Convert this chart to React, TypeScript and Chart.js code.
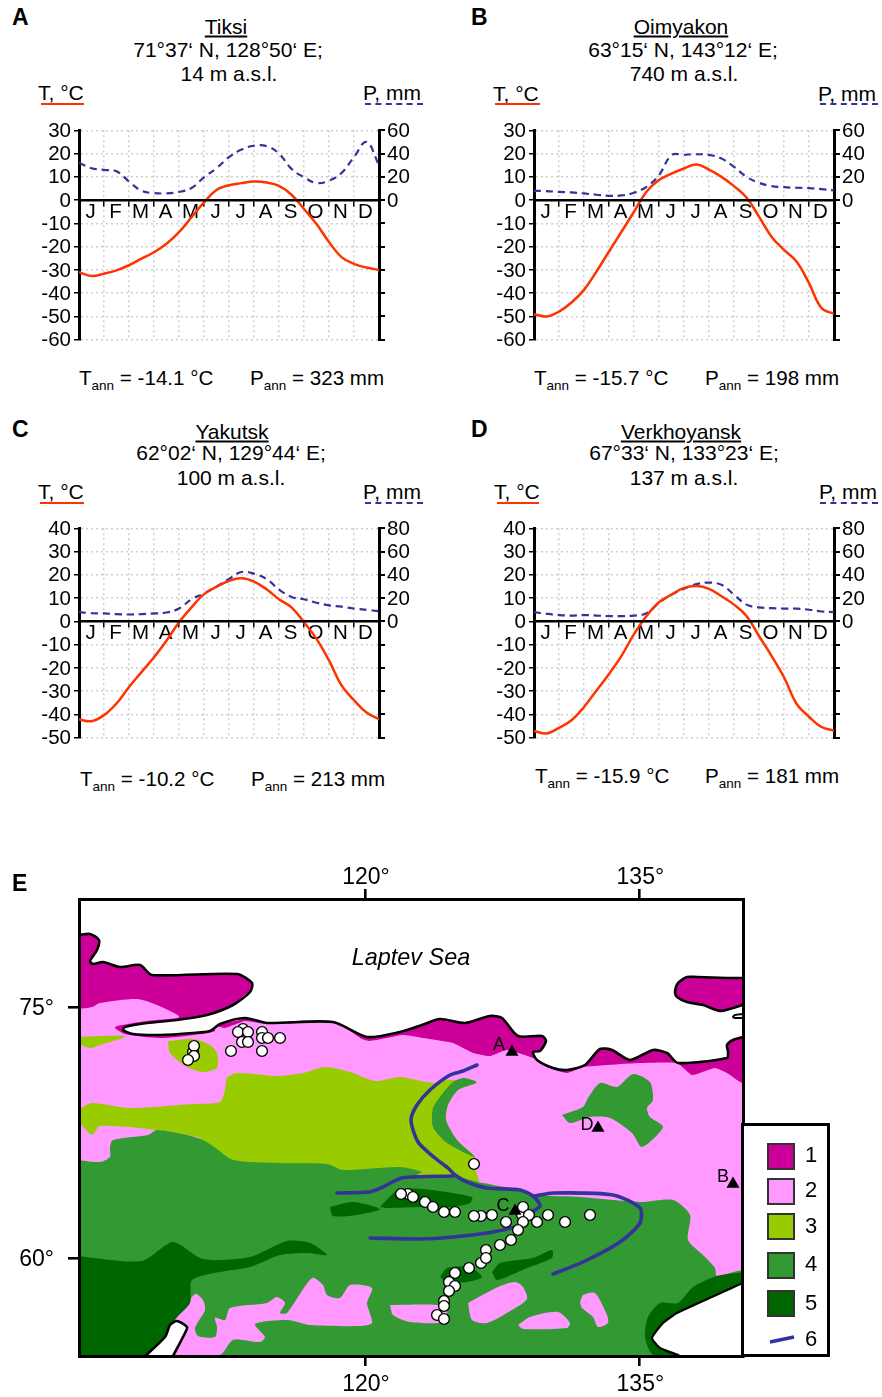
import React, { useEffect, useRef } from "react";
import { Chart, registerables } from "chart.js";

Chart.register(...registerables);

const FONT = '"Liberation Sans", Arial, sans-serif';

// ---- climate diagrams: half-month readings ----
const MONTH_POS = [0, 0.5, 1, 1.5, 2, 2.5, 3, 3.5, 4, 4.5, 5, 5.5, 6, 6.5, 7, 7.5, 8, 8.5, 9, 9.5, 10, 10.5, 11, 11.5, 12];
const MONTH_LETTERS = ["J", "F", "M", "A", "M", "J", "J", "A", "S", "O", "N", "D"];

const TIKSI_T = [-31, -32.6, -31.6, -30.2, -28, -25.2, -22.4, -18.8, -13.8, -7.4, -1, 4.3, 6.4, 7.3, 8, 7.6, 6.1, 2.3, -3.8, -10.3, -18, -24.5, -27.4, -29, -30];
const TIKSI_P = [32, 27.4, 26, 24.8, 16, 8, 6, 5.8, 7, 10.4, 19.6, 27.4, 37, 43.5, 46.7, 46.4, 40, 26.8, 19.6, 14.7, 16.7, 23.3, 37, 50, 30];
const OIMYAKON_T = [-49, -50, -47.9, -44, -38.6, -30.7, -22.1, -13.6, -5, 3.6, 8.6, 11.4, 13.6, 15.3, 13.1, 10, 6, 1.1, -7.1, -15.7, -21.4, -26.4, -35.7, -46.4, -48.9];
const OIMYAKON_P = [8, 7.7, 7.1, 6.6, 5.7, 4.6, 3.7, 4, 6.3, 11.4, 21.4, 38.6, 39, 39.4, 38.9, 35.7, 28.6, 20, 14.9, 12, 11.1, 10.6, 10.3, 9.4, 8.3];
const YAKUTSK_T = [-42.2, -42.9, -40.3, -35.3, -28.2, -21.8, -15.4, -8.3, -0.4, 6, 11.7, 14.8, 17.4, 18.5, 17.1, 13.8, 9.5, 6, -0.4, -7.5, -16.8, -27.5, -33.9, -39.2, -42];
const YAKUTSK_P = [8, 7, 6.8, 6.2, 5.9, 6.2, 6.8, 7.6, 11, 19, 24, 30, 36.4, 42.4, 41, 36.4, 27.4, 21, 19, 16, 13.8, 12.7, 11, 9.9, 8.8];
const VERKHOYANSK_T = [-47.1, -48.2, -45.8, -42.5, -36.8, -29.7, -22.6, -14.8, -5.5, 2.3, 8.2, 11.5, 14.4, 15.2, 14, 10.8, 7.2, 2.3, -6.3, -14.8, -24, -35.4, -41, -45.4, -47];
const VERKHOYANSK_P = [8, 6.5, 5.4, 5, 5.4, 5, 4.5, 4.5, 5, 7, 16, 23, 28, 32, 33.3, 31.4, 23, 14.4, 12, 11.3, 11, 11, 10, 8.5, 8];

// ---- map: outlines digitised on the map sheet (east, south) ----
type P = [number, number];
const MAP_COAST: P[] = [[79, 935], [90, 934], [99, 940], [97, 950], [90, 961], [93, 964], [103, 962], [120, 967], [140, 965], [152, 975], [237, 974], [252, 983], [250, 992], [233, 1005], [207, 1015], [177, 1020], [147, 1023], [125, 1027], [123, 1030], [133, 1034], [160, 1035], [193, 1033], [210, 1031], [220, 1024], [245, 1018], [267, 1023], [333, 1022], [367, 1037], [400, 1032], [422, 1025], [440, 1019], [465, 1023], [490, 1016], [502, 1018], [518, 1036], [542, 1036], [546, 1041], [540, 1051], [533, 1052], [537, 1060], [553, 1068], [567, 1070], [585, 1065], [600, 1049], [612, 1050], [630, 1060], [653, 1050], [667, 1053], [678, 1063], [727, 1058], [728, 1052], [727, 1045], [733, 1040], [743, 1037]];
const MAP_LAND_CLOSE: P[] = [[745, 1037], [745, 1358], [77, 1358], [77, 935], [79, 935]];
const MAP_INLET: P[] = [[125, 1027], [147, 1023], [177, 1020], [207, 1015], [233, 1005], [250, 992], [262, 1000], [245, 1018], [220, 1024], [210, 1031], [193, 1033], [160, 1035], [133, 1034], [123, 1030], [125, 1027]];
const MAP_MAGENTA_NW: P[] = [[77, 935], [90, 934], [99, 940], [97, 950], [90, 961], [93, 964], [103, 962], [120, 967], [140, 965], [152, 975], [237, 974], [252, 983], [250, 992], [233, 1005], [207, 1015], [177, 1020], [179, 1016], [157, 1005], [137, 999], [100, 1003], [92, 1007], [77, 1007], [77, 935]];
const MAP_MAGENTA_STRIP: P[] = [[179, 1018], [147, 1021], [117, 1026], [115, 1028], [125, 1034], [160, 1038], [193, 1035], [215, 1031], [210, 1024], [179, 1018]];
const MAP_MAGENTA_COAST: P[] = [[217, 1026], [245, 1018], [267, 1023], [333, 1022], [367, 1037], [400, 1032], [422, 1025], [440, 1019], [465, 1023], [490, 1016], [502, 1018], [518, 1036], [542, 1036], [546, 1041], [540, 1051], [533, 1052], [537, 1060], [553, 1068], [567, 1070], [585, 1065], [600, 1049], [612, 1050], [630, 1060], [653, 1050], [667, 1053], [678, 1063], [727, 1058], [728, 1052], [727, 1045], [733, 1040], [745, 1037], [745, 1084], [727, 1073], [715, 1068], [692, 1075], [677, 1063], [640, 1063], [583, 1067], [567, 1073], [547, 1067], [533, 1058], [507, 1050], [490, 1056], [473, 1053], [453, 1043], [423, 1038], [403, 1035], [370, 1041], [362, 1039], [337, 1023], [267, 1024], [245, 1021], [225, 1028], [217, 1026]];
const MAP_NE_ISLAND: P[] = [[745, 978], [727, 978], [697, 977], [687, 977], [678, 983], [675, 992], [677, 997], [687, 1002], [703, 1005], [720, 1011], [733, 1008], [745, 1004]];
const MAP_SMALL_ISLAND: P[] = [[743, 1014], [735, 1015], [733, 1017], [735, 1018], [743, 1018]];
const MAP_LG_WEST: P[] = [[77, 1037], [100, 1036], [125, 1036], [123, 1038], [103, 1044], [90, 1048], [77, 1042], [77, 1037]];
const MAP_LG_OVAL: P[] = [[168, 1041], [193, 1039], [210, 1045], [217, 1053], [217, 1068], [203, 1072], [187, 1067], [170, 1053], [168, 1041]];
const MAP_LG_MAIN: P[] = [[81, 1108], [92, 1103], [130, 1108], [193, 1104], [220, 1102], [225, 1090], [227, 1078], [237, 1073], [277, 1076], [303, 1073], [325, 1067], [350, 1072], [375, 1081], [400, 1077], [433, 1083], [448, 1080], [476, 1083], [458, 1090], [448, 1105], [446, 1120], [457, 1140], [475, 1157], [474, 1165], [478, 1183], [400, 1190], [217, 1170], [203, 1140], [187, 1135], [157, 1130], [100, 1126], [92, 1135], [77, 1117], [81, 1108]];
const MAP_GREEN_MAIN: P[] = [[77, 1160], [100, 1162], [110, 1157], [110, 1147], [113, 1140], [148, 1135], [157, 1130], [187, 1135], [203, 1140], [217, 1149], [233, 1160], [280, 1163], [327, 1164], [343, 1170], [400, 1167], [422, 1172], [417, 1175], [453, 1176], [478, 1182], [520, 1190], [537, 1195], [580, 1197], [640, 1202], [673, 1200], [690, 1215], [688, 1240], [703, 1255], [715, 1268], [717, 1276], [745, 1272], [745, 1358], [77, 1358], [77, 1160]];
const MAP_GREEN_STRIP: P[] = [[476, 1081], [463, 1078], [453, 1082], [443, 1093], [433, 1108], [433, 1127], [447, 1143], [475, 1157], [457, 1140], [446, 1120], [448, 1105], [458, 1090], [476, 1083], [476, 1081]];
const MAP_GREEN_D: P[] = [[562, 1115], [583, 1107], [588, 1098], [600, 1083], [617, 1087], [633, 1074], [650, 1082], [653, 1100], [647, 1108], [650, 1117], [663, 1127], [642, 1147], [632, 1133], [610, 1118], [590, 1117], [570, 1123], [562, 1115]];
const MAP_PINK_1: P[] = [[175, 1320], [195, 1294], [203, 1300], [205, 1310], [195, 1328], [198, 1336], [215, 1337], [217, 1327], [215, 1318], [225, 1320], [230, 1308], [267, 1303], [277, 1297], [285, 1303], [280, 1313], [287, 1313], [312, 1278], [323, 1285], [327, 1295], [340, 1298], [350, 1285], [372, 1288], [367, 1303], [372, 1323], [360, 1326], [310, 1325], [287, 1320], [255, 1324], [265, 1337], [260, 1342], [233, 1340], [220, 1355], [172, 1356], [175, 1320]];
const MAP_PINK_2: P[] = [[390, 1305], [437, 1305], [447, 1310], [443, 1322], [410, 1322], [393, 1315], [390, 1305]];
const MAP_PINK_3: P[] = [[468, 1303], [498, 1287], [515, 1282], [523, 1287], [527, 1299], [512, 1310], [487, 1323], [472, 1320], [468, 1303]];
const MAP_PINK_4: P[] = [[518, 1325], [530, 1317], [558, 1312], [570, 1323], [567, 1328], [523, 1329], [518, 1325]];
const MAP_PINK_5: P[] = [[580, 1303], [583, 1295], [595, 1293], [607, 1315], [608, 1323], [598, 1327], [593, 1317], [582, 1308], [580, 1303]];
const MAP_DG_SW: P[] = [[77, 1256], [142, 1261], [173, 1242], [203, 1259], [250, 1257], [287, 1241], [310, 1243], [327, 1255], [307, 1253], [280, 1255], [250, 1267], [220, 1272], [192, 1280], [190, 1303], [175, 1320], [170, 1340], [143, 1358], [77, 1358], [77, 1256]];
const MAP_DG_1: P[] = [[330, 1207], [353, 1202], [380, 1209], [357, 1215], [333, 1216], [330, 1207]];
const MAP_DG_2: P[] = [[380, 1207], [398, 1190], [423, 1189], [472, 1197], [470, 1203], [453, 1207], [423, 1207], [387, 1208], [380, 1207]];
const MAP_DG_3: P[] = [[492, 1272], [500, 1263], [533, 1258], [552, 1250], [552, 1258], [527, 1268], [497, 1280], [492, 1272]];
const MAP_DG_4: P[] = [[440, 1277], [447, 1268], [470, 1267], [482, 1277], [467, 1282], [447, 1282], [440, 1277]];
const MAP_DG_SE: P[] = [[745, 1272], [717, 1276], [693, 1287], [678, 1303], [660, 1303], [648, 1317], [645, 1337], [653, 1355], [678, 1358], [745, 1358], [745, 1272]];
const MAP_SEA_SW: P[] = [[143, 1358], [165, 1337], [170, 1325], [177, 1321], [187, 1327], [185, 1333], [172, 1358]];
const MAP_SEA_SE: P[] = [[745, 1282], [677, 1313], [663, 1323], [652, 1338], [660, 1348], [678, 1355], [684, 1358]];
const MAP_SEA_SE_CORNER: P[] = [[745, 1358], [745, 1282]];
const MAP_RIVER_LENA: P[] = [[477, 1065], [463, 1071], [450, 1075], [430, 1090], [417, 1105], [411, 1120], [418, 1142], [435, 1158], [448, 1168], [455, 1175], [467, 1182], [487, 1188], [520, 1190], [533, 1196], [540, 1206], [527, 1215], [520, 1225], [493, 1232], [453, 1237], [420, 1239], [370, 1238]];
const MAP_RIVER_VILYUY: P[] = [[337, 1193], [370, 1192], [383, 1187], [402, 1178], [453, 1176]];
const MAP_RIVER_ALDAN: P[] = [[535, 1196], [553, 1193], [613, 1195], [640, 1208], [640, 1223], [620, 1242], [583, 1262], [553, 1274]];
const MAP_SITES: P[] = [[193, 1052], [194, 1046], [194, 1056], [188, 1060], [231, 1051], [243, 1029], [238, 1032], [248, 1032], [242, 1042], [248, 1042], [262, 1032], [262, 1038], [268, 1038], [280, 1038], [262, 1051], [474, 1164], [408, 1194], [401, 1194], [413, 1197], [425, 1202], [433, 1207], [444, 1212], [455, 1212], [481, 1216], [474, 1216], [492, 1215], [506, 1222], [522, 1215], [523, 1207], [529, 1215], [523, 1222], [537, 1222], [548, 1215], [565, 1222], [590, 1215], [518, 1230], [511, 1240], [500, 1245], [486, 1250], [481, 1263], [486, 1258], [469, 1268], [455, 1273], [449, 1282], [455, 1286], [449, 1291], [444, 1301], [444, 1306], [437, 1315], [444, 1319]];
const MAP_STATIONS: P[] = [[512, 1052], [733, 1184], [515, 1211], [598, 1128]];
const LON_TICKS = [120, 135];
const LAT_TICKS = [60, 75];

const MAGENTA = "#CC0099";
const PINK = "#FF99FF";
const LIME = "#99CC00";
const GREEN = "#339933";
const DARK = "#006600";
const BLUE = "#333399";
const RED = "#FF3300";

const lon = (e: number) => 120 + (e - 365) / 18.29;
const lat = (s: number) => 75 - (s - 1007) / 16.73;
const geo = (pts: P[]) => pts.map(([e, s]) => ({ x: lon(e), y: lat(s) }));

const fillLayer = (pts: P[], color: string, tension = 0.25) => ({
  type: "scatter", data: geo(pts), showLine: true, fill: "shape", backgroundColor: color,
  borderWidth: 0, borderColor: color, pointRadius: 0, tension, capBezierPoints: false,
});
const strokeLayer = (pts: P[], color: string, width: number, tension = 0.25) => ({
  type: "scatter", data: geo(pts), showLine: true, fill: false, borderColor: color,
  borderWidth: width, pointRadius: 0, tension, capBezierPoints: false, borderCapStyle: "round", borderJoinStyle: "round",
});

const tickFont = { family: FONT, size: 20.5 };

function ClimateChart({ left, top, tMax, tMin, pMax, pMin, temp, prec }: any) {
  const ref = useRef<HTMLCanvasElement>(null);
  useEffect(() => {
    const chart = new Chart(ref.current!, {
      type: "line",
      data: {
        datasets: [
          { data: MONTH_POS.map((x, i) => ({ x, y: temp[i] })), yAxisID: "y", borderColor: RED, borderWidth: 2.5, pointRadius: 0, tension: 0.4 },
          { data: MONTH_POS.map((x, i) => ({ x, y: prec[i] })), yAxisID: "y1", borderColor: BLUE, borderWidth: 2.2, borderDash: [7, 5], pointRadius: 0, tension: 0.4 },
        ],
      },
      options: {
        animation: false, responsive: false, events: [],
        layout: { padding: { top: 15, bottom: 14, left: 0, right: 0 } },
        plugins: { legend: { display: false }, tooltip: { enabled: false } },
        scales: {
          x: {
            type: "linear", min: 0, max: 12, position: { y: 0 } as any,
            grid: {
              color: (c: any) => (Number.isInteger(c.tick?.value) && c.tick.value > 0 && c.tick.value < 12 ? "#cfcfcf" : "transparent"),
              tickColor: (c: any) => (Number.isInteger(c.tick?.value) ? "#000" : "transparent"),
              lineWidth: 1.5, tickLength: 5, tickBorderDash: [],
            },
            border: { color: "#000", width: 2.6, dash: [2, 3], z: 1 },
            ticks: {
              stepSize: 0.5, autoSkip: false, maxRotation: 0, padding: -5, labelOffset: -1, color: "#000", font: tickFont,
              callback: (v: any) => (Number.isInteger(v) ? "" : MONTH_LETTERS[Math.floor(v)]),
            },
          },
          y: {
            type: "linear", min: tMin, max: tMax, position: "left",
            afterFit: (s: any) => { s.width = 59; },
            grid: { color: "#cfcfcf", lineWidth: 1.5, tickColor: "#000", tickLength: 5, tickBorderDash: [] },
            border: { color: "#000", width: 3, dash: [2, 3] },
            ticks: { stepSize: 10, autoSkip: false, padding: 3, labelOffset: 1, color: "#000", font: tickFont },
          },
          y1: {
            type: "linear", min: pMin, max: pMax, position: "right",
            afterFit: (s: any) => { s.width = 41; },
            grid: { drawOnChartArea: false, tickColor: "#000", tickLength: 6, lineWidth: 2 },
            border: { color: "#000", width: 3 },
            ticks: { stepSize: 20, autoSkip: false, padding: 2, labelOffset: 1, color: "#000", font: tickFont, callback: (v: any) => (v >= 0 ? String(v) : "") },
          },
        },
      },
    } as any);
    return () => chart.destroy();
  }, []);
  return <canvas ref={ref} width={400} height={240} style={{ position: "absolute", left, top, width: 400, height: 240 }} />;
}

function MapChart() {
  const ref = useRef<HTMLCanvasElement>(null);
  useEffect(() => {
    const painterOrder: any[] = [
      fillLayer([...MAP_COAST, ...MAP_LAND_CLOSE], PINK, 0),
      fillLayer(MAP_MAGENTA_NW, MAGENTA),
      fillLayer(MAP_MAGENTA_STRIP, MAGENTA),
      fillLayer(MAP_MAGENTA_COAST, MAGENTA, 0.15),
      fillLayer(MAP_NE_ISLAND, MAGENTA),
      fillLayer(MAP_INLET, "#fff"),
      fillLayer(MAP_LG_WEST, LIME),
      fillLayer(MAP_LG_OVAL, LIME),
      fillLayer(MAP_LG_MAIN, LIME),
      fillLayer(MAP_GREEN_MAIN, GREEN),
      fillLayer(MAP_GREEN_STRIP, GREEN),
      fillLayer(MAP_GREEN_D, GREEN),
      fillLayer(MAP_PINK_1, PINK),
      fillLayer(MAP_PINK_2, PINK),
      fillLayer(MAP_PINK_3, PINK),
      fillLayer(MAP_PINK_4, PINK),
      fillLayer(MAP_PINK_5, PINK),
      fillLayer(MAP_DG_SW, DARK),
      fillLayer(MAP_DG_1, DARK),
      fillLayer(MAP_DG_2, DARK),
      fillLayer(MAP_DG_3, DARK),
      fillLayer(MAP_DG_4, DARK),
      fillLayer(MAP_DG_SE, DARK),
      fillLayer(MAP_SEA_SW, "#fff"),
      fillLayer([...MAP_SEA_SE, ...MAP_SEA_SE_CORNER], "#fff", 0.15),
      strokeLayer(MAP_COAST, "#000", 2.6),
      strokeLayer(MAP_NE_ISLAND, "#000", 2.6),
      strokeLayer(MAP_SMALL_ISLAND, "#000", 2),
      strokeLayer(MAP_SEA_SW, "#000", 2.6),
      strokeLayer(MAP_SEA_SE, "#000", 2.2, 0.15),
      strokeLayer(MAP_RIVER_LENA, BLUE, 3.6),
      strokeLayer(MAP_RIVER_VILYUY, BLUE, 3.6),
      strokeLayer(MAP_RIVER_ALDAN, BLUE, 3.6),
      { type: "scatter", data: geo(MAP_SITES), pointRadius: 5.4, pointBackgroundColor: "#fff", pointBorderColor: "#000", pointBorderWidth: 1.4 },
      { type: "scatter", data: geo(MAP_STATIONS), pointStyle: "triangle", pointRadius: 7.5, pointBackgroundColor: "#000", pointBorderColor: "#000", pointBorderWidth: 0 },
    ];
    const lonAxis = (position: string, h: number, pad: number) => ({
      type: "linear", position, min: lon(79), max: lon(743),
      afterBuildTicks: (s: any) => { s.ticks = LON_TICKS.map((value) => ({ value })); },
      afterFit: (s: any) => { s.height = h; },
      grid: { drawOnChartArea: false, tickColor: "#000", tickLength: 10, lineWidth: 2.6, z: 1 },
      border: { color: "#000", width: 3, z: 1 },
      ticks: { autoSkip: false, maxRotation: 0, padding: pad, labelOffset: 1, color: "#000", font: { family: FONT, size: 23 }, callback: (v: any) => `${v}°` },
    });
    const chart = new Chart(ref.current!, {
      type: "scatter",
      data: { datasets: painterOrder.reverse() },
      options: {
        animation: false, responsive: false, events: [],
        layout: { padding: { right: 139, left: 0, top: 0, bottom: 0 } },
        plugins: { legend: { display: false }, tooltip: { enabled: false } },
        scales: {
          x: lonAxis("bottom", 41, 5),
          xTop: lonAxis("top", 39, -2),
          y: {
            type: "linear", position: "left", min: lat(1356), max: lat(899),
            afterBuildTicks: (s: any) => { s.ticks = LAT_TICKS.map((value) => ({ value })); },
            afterFit: (s: any) => { s.width = 79; },
            grid: { drawOnChartArea: false, tickColor: "#000", tickLength: 11, lineWidth: 2.6, z: 1 },
            border: { color: "#000", width: 3, z: 1 },
            ticks: { autoSkip: false, padding: 14, labelOffset: 2, color: "#000", font: { family: FONT, size: 23 }, callback: (v: any) => `${v}°` },
          },
          yRight: {
            type: "linear", position: "right", min: 0, max: 1,
            afterFit: (s: any) => { s.width = 0; },
            grid: { drawOnChartArea: false, drawTicks: false },
            border: { color: "#000", width: 3, z: 1 },
            ticks: { display: false },
          },
        },
      },
    } as any);
    return () => chart.destroy();
  }, []);
  return <canvas ref={ref} width={882} height={537} style={{ position: "absolute", left: 0, top: 860, width: 882, height: 537 }} />;
}

function Label({ x, y, align = "center", size = 21, bold, italic, underline, children }: any) {
  const tx = align === "center" ? "-50%" : "0";
  return (
    <span style={{
      position: "absolute", left: x, top: y, transform: `translate(${tx}, -50%)`, whiteSpace: "nowrap",
      fontFamily: FONT, fontSize: size, lineHeight: 1, color: "#000",
      fontWeight: bold ? "bold" : "normal", fontStyle: italic ? "italic" : "normal",
      textDecoration: underline ? "underline" : "none",
    }}>{children}</span>
  );
}

const Ann = ({ sym, rest }: any) => <>{sym}<sub style={{ fontSize: 13.5, lineHeight: 0 }}>ann</sub>{rest}</>;

function Underline({ x, y, w, dashed }: any) {
  return <div style={{ position: "absolute", left: x, top: y, width: w, height: 0, borderTop: `2px ${dashed ? "dashed" : "solid"} ${dashed ? BLUE : RED}` }} />;
}

const PANELS = [
  { key: "A", lx: 12, ly: 17, name: "Tiksi", nx: 226, coord: "71°37‘ N, 128°50‘ E;", cx: 228, alt: "14 m a.s.l.", ax: 229, y0: 26, y1: 49, y2: 73, tx: 38, px: 363, hy: 92, ux: 41, uw: 43, ubx: 365, ubw: 58, uy: 103, ay: 378, tax: 79, pax: 250, tann: " = -14.1 °C", pann: " = 323 mm", left: 20, top: 115, t: TIKSI_T, p: TIKSI_P, tMin: -60, tMax: 30, pMin: -120, pMax: 60 },
  { key: "B", lx: 471, ly: 17, name: "Oimyakon", nx: 681, coord: "63°15‘ N, 143°12‘ E;", cx: 683, alt: "740 m a.s.l.", ax: 684, y0: 26, y1: 49, y2: 73, tx: 493, px: 818, hy: 93, ux: 495, uw: 45, ubx: 820, ubw: 58, uy: 103, ay: 378, tax: 534, pax: 705, tann: " = -15.7 °C", pann: " = 198 mm", left: 475, top: 115, t: OIMYAKON_T, p: OIMYAKON_P, tMin: -60, tMax: 30, pMin: -120, pMax: 60 },
  { key: "C", lx: 12, ly: 429, name: "Yakutsk", nx: 232, coord: "62°02‘ N, 129°44‘ E;", cx: 231, alt: "100 m a.s.l.", ax: 231, y0: 431, y1: 452, y2: 477, tx: 38, px: 363, hy: 491, ux: 40, uw: 44, ubx: 365, ubw: 58, uy: 502, ay: 779, tax: 80, pax: 251, tann: " = -10.2 °C", pann: " = 213 mm", left: 20, top: 513, t: YAKUTSK_T, p: YAKUTSK_P, tMin: -50, tMax: 40, pMin: -100, pMax: 80 },
  { key: "D", lx: 471, ly: 429, name: "Verkhoyansk", nx: 681, coord: "67°33‘ N, 133°23‘ E;", cx: 684, alt: "137 m a.s.l.", ax: 684, y0: 431, y1: 452, y2: 477, tx: 494, px: 819, hy: 491, ux: 497, uw: 42, ubx: 820, ubw: 58, uy: 502, ay: 776, tax: 535, pax: 705, tann: " = -15.9 °C", pann: " = 181 mm", left: 475, top: 513, t: VERKHOYANSK_T, p: VERKHOYANSK_P, tMin: -50, tMax: 40, pMin: -100, pMax: 80 },
];

const LEGEND_ROWS = [
  { n: "1", color: MAGENTA, y: 1143, ny: 1155 },
  { n: "2", color: PINK, y: 1178, ny: 1190 },
  { n: "3", color: LIME, y: 1213, ny: 1226 },
  { n: "4", color: GREEN, y: 1252, ny: 1264 },
  { n: "5", color: DARK, y: 1290, ny: 1303 },
];

export default function App() {
  return (
    <div style={{ position: "absolute", left: 0, top: 0, width: 882, height: 1397, overflow: "hidden", background: "#fff" }}>
      {PANELS.map((p) => (
        <React.Fragment key={p.key}>
          <ClimateChart left={p.left} top={p.top} tMin={p.tMin} tMax={p.tMax} pMin={p.pMin} pMax={p.pMax} temp={p.t} prec={p.p} />
          <Label x={p.lx} y={p.ly} align="left" size={23} bold>{p.key}</Label>
          <Label x={p.nx} y={p.y0} underline>{p.name}</Label>
          <Label x={p.cx} y={p.y1}>{p.coord}</Label>
          <Label x={p.ax} y={p.y2}>{p.alt}</Label>
          <Label x={p.tx} y={p.hy} align="left">T, °C</Label>
          <Label x={p.px} y={p.hy} align="left">P, mm</Label>
          <Underline x={p.ux} y={p.uy} w={p.uw} />
          <Underline x={p.ubx} y={p.uy} w={p.ubw} dashed />
          <Label x={p.tax} y={p.ay} align="left" size={20.6}><Ann sym="T" rest={p.tann} /></Label>
          <Label x={p.pax} y={p.ay} align="left" size={20.6}><Ann sym="P" rest={p.pann} /></Label>
        </React.Fragment>
      ))}
      <MapChart />
      <Label x={12} y={883} align="left" size={23} bold>E</Label>
      <Label x={411} y={958} size={23.4} italic>Laptev Sea</Label>
      <Label x={499} y={1044} size={18}>A</Label>
      <Label x={723} y={1176} size={18}>B</Label>
      <Label x={503} y={1205} size={18}>C</Label>
      <Label x={587} y={1124} size={18}>D</Label>
      <div style={{ position: "absolute", left: 741, top: 1123, width: 83, height: 228, border: "3px solid #000", background: "#fff" }} />
      {LEGEND_ROWS.map((r) => (
        <React.Fragment key={r.n}>
          <div style={{ position: "absolute", left: 767, top: r.y, width: 24, height: 23, background: r.color, border: "2px solid #333" }} />
          <Label x={805} y={r.ny} align="left" size={22}>{r.n}</Label>
        </React.Fragment>
      ))}
      <svg style={{ position: "absolute", left: 765, top: 1332, width: 34, height: 14 }}>
        <line x1={5} y1={10} x2={29} y2={5} stroke={BLUE} strokeWidth={3.5} />
      </svg>
      <Label x={805} y={1339} align="left" size={22}>6</Label>
    </div>
  );
}
